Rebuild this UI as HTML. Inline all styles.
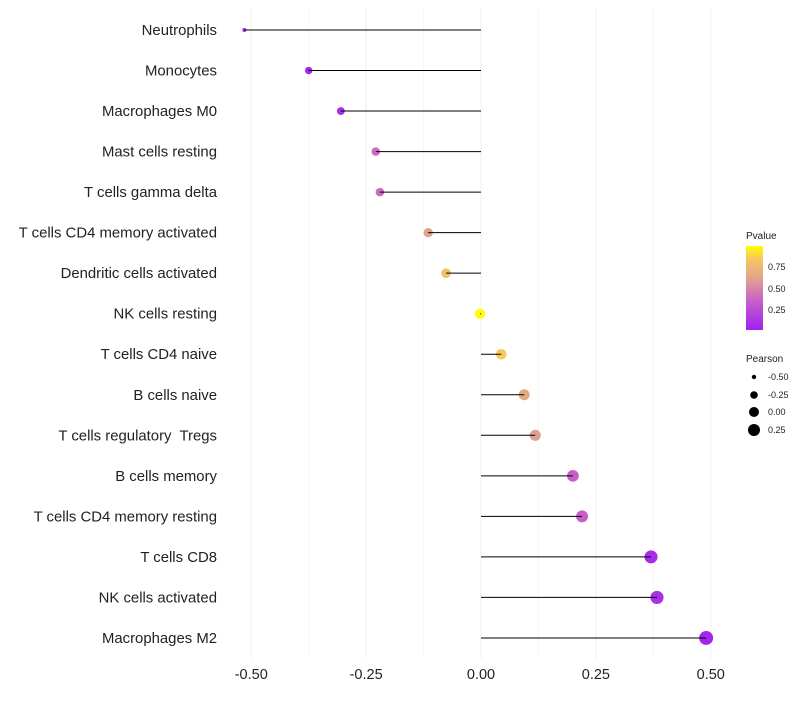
<!DOCTYPE html>
<html><head><meta charset="utf-8"><style>
body{margin:0;background:#fff;font-family:"Liberation Sans",sans-serif}
text{white-space:pre}
</style></head><body>
<svg id="c" width="800" height="700" xmlns="http://www.w3.org/2000/svg">
<defs><linearGradient id="pg" x1="0" y1="1" x2="0" y2="0">
<stop offset="0" stop-color="#A020F0"/><stop offset="0.35" stop-color="#C860C8"/><stop offset="0.6" stop-color="#E0A090"/><stop offset="0.85" stop-color="#F5C860"/><stop offset="1" stop-color="#FFFF00"/></linearGradient></defs>
<g id="grid"></g><g id="dots"></g><g id="marks"></g><g id="ylab"></g><g id="xlab"></g>
<g font-size="9" fill="#222">
<text x="746" y="239" font-size="10">Pvalue</text>
<rect x="746" y="246" width="17" height="84" fill="url(#pg)"/>
<text x="768" y="270">0.75</text><text x="768" y="292">0.50</text><text x="768" y="313">0.25</text>
</g>
<g font-size="9" fill="#222">
<text x="746" y="362" font-size="10">Pearson</text>
<circle cx="754" cy="377" r="2.2" fill="#000"/><text x="768" y="380">-0.50</text>
<circle cx="754" cy="395" r="3.8" fill="#000"/><text x="768" y="398">-0.25</text>
<circle cx="754" cy="412" r="5" fill="#000"/><text x="768" y="415">0.00</text>
<circle cx="754" cy="430" r="6" fill="#000"/><text x="768" y="433">0.25</text>
</g>
</svg>
<script>
const cats=["Neutrophils","Monocytes","Macrophages M0","Mast cells resting","T cells gamma delta","T cells CD4 memory activated","Dendritic cells activated","NK cells resting","T cells CD4 naive","B cells naive","T cells regulatory  Tregs","B cells memory","T cells CD4 memory resting","T cells CD8","NK cells activated","Macrophages M2"];
const pearson=[-0.515,-0.375,-0.305,-0.229,-0.22,-0.115,-0.076,-0.002,0.044,0.094,0.118,0.2,0.22,0.37,0.383,0.49];
const pvals=[0.05,0.05,0.1,0.4,0.4,0.62,0.8,0.99,0.85,0.65,0.6,0.35,0.35,0.08,0.1,0.05];
const xticks=[-0.5,-0.25,0,0.25,0.5];
const xtickLabels=["-0.50","-0.25","0.00","0.25","0.50"];
const NS="http://www.w3.org/2000/svg";
const x=v=>481+v*459.5;
const y=i=>30+i*40.53;
const rad=v=>v<-0.45?2:3.7+(v+0.375)*3.8;
const stops=[[0,[160,32,240]],[0.35,[200,96,200]],[0.6,[224,160,144]],[0.85,[245,200,96]],[1,[255,255,0]]];
function col(p){const t=Math.max(0,Math.min(1,(p-0.017)/(0.99-0.017)));for(let k=1;k<stops.length;k++){if(t<=stops[k][0]){const a=stops[k-1],b=stops[k];const f=(t-a[0])/(b[0]-a[0]);return"rgb("+a[1].map((c,j)=>Math.round(c+(b[1][j]-c)*f)).join(",")+")";}}return"rgb(255,255,0)";}
function mk(t,a,p){const e=document.createElementNS(NS,t);for(const k in a)e.setAttribute(k,a[k]);p.appendChild(e);return e;}
const grid=document.getElementById('grid'),dots=document.getElementById('dots'),marks=document.getElementById('marks'),yl=document.getElementById('ylab'),xl=document.getElementById('xlab');
[-0.375,-0.125,0.125,0.375].forEach(v=>{const l=mk('line',{x1:x(v),x2:x(v),y1:8,y2:658,stroke:'#f7f7f7','stroke-width':1},grid);

});
xticks.forEach((v,i)=>{const l=mk('line',{x1:x(v),x2:x(v),y1:8,y2:658,stroke:'#efefef','stroke-width':1},grid);


const t=mk('text',{x:x(v),y:679,'text-anchor':'middle','font-size':14.5,fill:'#222'},xl);t.textContent=xtickLabels[i];

});
cats.forEach((c,i)=>{const t=mk('text',{x:217,y:y(i)+5,'text-anchor':'end','font-size':14.9,fill:'#222'},yl);t.textContent=c;


const d=mk('circle',{cx:x(pearson[i]),cy:y(i),r:rad(pearson[i]),fill:col(pvals[i])},dots);


const l=mk('line',{x1:x(0),x2:x(pearson[i]),y1:y(i),y2:y(i),stroke:'#000','stroke-width':1},marks);

});
</script>
</body></html>
